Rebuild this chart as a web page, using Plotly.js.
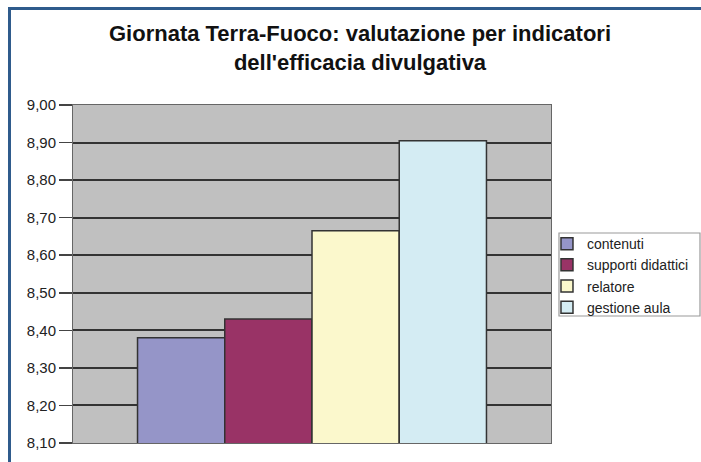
<!DOCTYPE html>
<html>
<head>
<meta charset="utf-8">
<script src="https://cdn.plot.ly/plotly-3.0.1.min.js"></script>
<style>
html,body{margin:0;padding:0;background:#fff;overflow:hidden;}
#wrap{position:relative;width:701px;height:462px;overflow:hidden;}
#chart{width:720px;height:462px;}
#frame{position:absolute;left:8px;top:7px;width:720px;height:480px;border-top:3px solid #2f5b8c;border-left:3px solid #2f5b8c;pointer-events:none;}
</style>
</head>
<body>
<div id="wrap"><div id="chart"></div><div id="frame"></div></div>
<script>
const categories = ['contenuti', 'supporti didattici', 'relatore', 'gestione aula'];
const values = [8.38, 8.43, 8.665, 8.905];
const colors = ['#9595c8', '#993366', '#fbf8cc', '#d4ecf3'];
const yTickVals = [8.10, 8.20, 8.30, 8.40, 8.50, 8.60, 8.70, 8.80, 8.90, 9.00];
const yTickText = ['8,10', '8,20', '8,30', '8,40', '8,50', '8,60', '8,70', '8,80', '8,90', '9,00'];

const traces = categories.map((name, i) => ({
  type: 'bar',
  name: name,
  x: ['indicatori'],
  y: [values[i]],
  marker: {color: colors[i], line: {color: '#333333', width: 1.5}},
  hoverinfo: 'name+y'
}));

const FONT = 'Liberation Sans, Arial, sans-serif';

const layout = {
  width: 720, height: 462,
  margin: {l: 73, r: 169, t: 105, b: 19, pad: 0},
  paper_bgcolor: '#ffffff',
  plot_bgcolor: '#c0c0c0',
  separators: ',.',
  font: {family: FONT, color: '#222', size: 15},
  title: {
    text: "<b>Giornata Terra-Fuoco: valutazione per indicatori<br>dell'efficacia divulgativa</b>",
    font: {size: 22, color: '#111', family: FONT},
    xref: 'container', x: 0.5, xanchor: 'center',
    yref: 'container', y: 0.911, yanchor: 'top'
  },
  barmode: 'group',
  bargap: 0.27,
  bargroupgap: 0,
  showlegend: true,
  legend: {
    x: 0.9916, xanchor: 'left', y: 0.636, yanchor: 'top',
    borderwidth: 0, bgcolor: 'rgba(0,0,0,0)',
    font: {size: 14, color: '#222', family: FONT},
    tracegroupgap: 0, itemwidth: 30
  },
  shapes: [{
    type: 'rect', xref: 'paper', yref: 'paper',
    x0: 1.0167, x1: 1.3117, y0: 0.3757, y1: 0.6213,
    line: {color: '#9a9a9a', width: 1.2}, fillcolor: '#ffffff', layer: 'below'
  }],
  xaxis: {
    showticklabels: false, ticks: '', showgrid: false, zeroline: false,
    showline: true, linecolor: '#666', linewidth: 1, mirror: true
  },
  yaxis: {
    range: [8.10, 9.00],
    tickvals: yTickVals,
    ticktext: yTickText,
    ticks: 'outside', ticklen: 13, tickcolor: '#444', tickwidth: 1.5,
    ticklabelstandoff: 0,
    showgrid: true, gridcolor: '#333333', gridwidth: 2,
    zeroline: false, showline: true, linecolor: '#666', linewidth: 1, mirror: true,
    tickfont: {size: 15, color: '#222', family: FONT}
  }
};

Plotly.newPlot('chart', traces, layout, {displayModeBar: false, staticPlot: true});
</script>
</body>
</html>
